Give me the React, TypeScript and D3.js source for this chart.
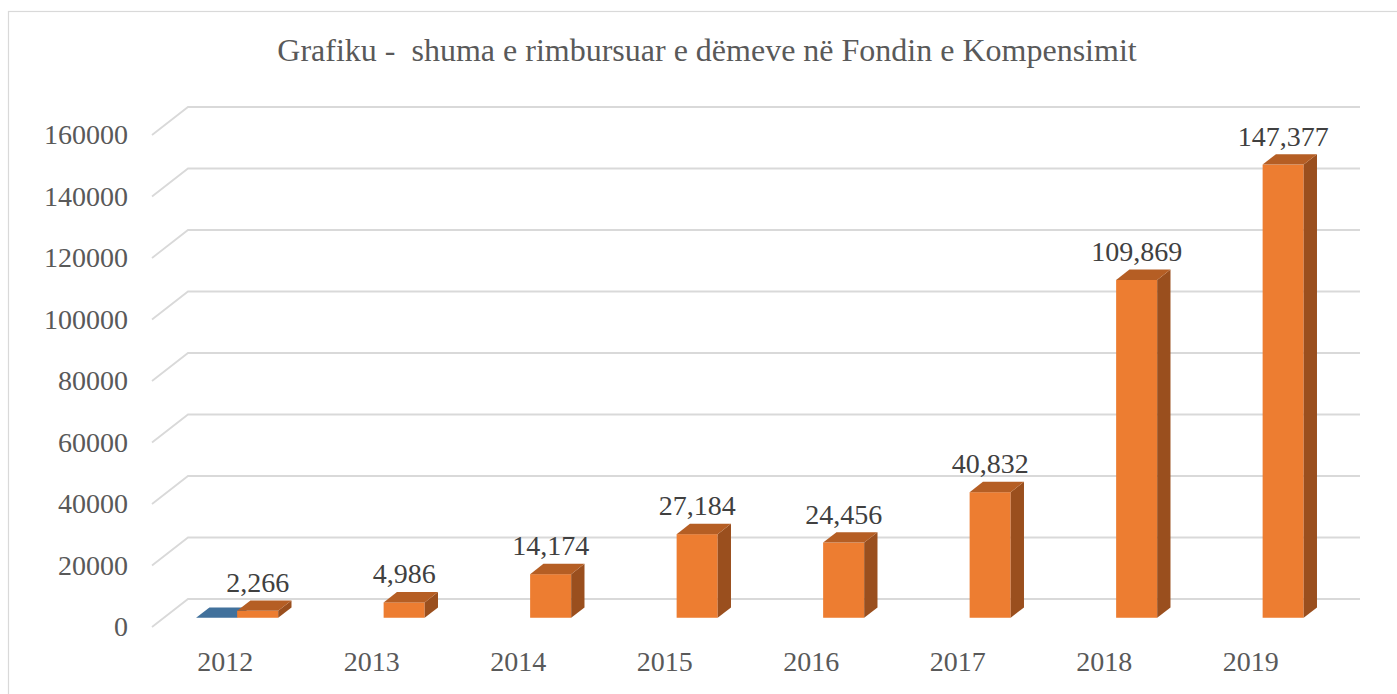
import React from "react";
import * as d3 from "d3";

const years = ["2012", "2013", "2014", "2015", "2016", "2017", "2018", "2019"];
const orangeValues = [2266, 4986, 14174, 27184, 24456, 40832, 109869, 147377];
const blueValues: (number | null)[] = [0, null, null, null, null, null, null, null];
const yTicks = [0, 20000, 40000, 60000, 80000, 100000, 120000, 140000, 160000];
const title = "Grafiku -  shuma e rimbursuar e dëmeve në Fondin e Kompensimit";

const W = 1397;
const H = 694;
const FONT = "'Liberation Serif', 'Times New Roman', serif";

export default function App() {
  // 3D floor geometry
  const frontLeft = 152;
  const frontRight = 1324;
  const depth = { dx: 36, dy: -28 };
  const tFront = 0.33;
  const tBack = 0.7;
  const gapRatio = 1.57;

  const y = d3.scaleLinear().domain([0, 160000]).range([627, 135]);
  const x = d3.scaleBand<string>().domain(years).range([frontLeft, frontRight]).padding(0);
  const band = x.bandwidth();
  const barW = band / (2 + gapRatio);
  const off = (band - 2 * barW) / 2;

  const yAt = (v: number, t: number) => y(v) + depth.dy * t;
  const xAt = (px: number, t: number) => px + depth.dx * t;
  const fmt = d3.format(",");

  const ddx = depth.dx * (tBack - tFront);
  const ddy = depth.dy * (tBack - tFront);

  const bar = (xl: number, v: number, colors: [string, string, string], key: string) => {
    const x0 = xAt(xl, tFront);
    const x1 = x0 + barW;
    const yTop = yAt(v, tFront);
    const yBot = yAt(0, tFront);
    const top = `M${x0},${yTop}L${x1},${yTop}L${x1 + ddx},${yTop + ddy}L${x0 + ddx},${yTop + ddy}Z`;
    const side = `M${x1},${yTop}L${x1 + ddx},${yTop + ddy}L${x1 + ddx},${yBot + ddy}L${x1},${yBot}Z`;
    return (
      <g key={key}>
        {yBot - yTop > 0.5 && <rect x={x0} y={yTop} width={barW} height={yBot - yTop} fill={colors[0]} />}
        <path d={side} fill={colors[2]} />
        <path d={top} fill={colors[1]} />
      </g>
    );
  };

  return (
    <svg width={W} height={H} style={{ position: "absolute", left: 0, top: 0, background: "#fff" }}>
      <rect x={8.5} y={11.5} width={W + 20} height={H + 20} fill="#fff" stroke="#d9d9d9" strokeWidth={1.2} />
      <text x={707} y={61} textAnchor="middle" fontFamily={FONT} fontSize={32} fill="#595959" style={{ whiteSpace: "pre" }}>
        {title}
      </text>
      {yTicks.map((t) => {
        const yf = y(t);
        return (
          <g key={t}>
            <path
              d={`M${frontLeft},${yf}L${frontLeft + depth.dx},${yf + depth.dy}L${frontRight + depth.dx},${yf + depth.dy}`}
              fill="none"
              stroke="#d9d9d9"
              strokeWidth={1.8}
            />
            <text x={128} y={yf + 9} textAnchor="end" fontFamily={FONT} fontSize={28} fill="#595959">
              {t}
            </text>
          </g>
        );
      })}
      {years.map((yr, i) => {
        const bx = x(yr)! + off;
        const parts = [] as React.ReactNode[];
        const bv = blueValues[i];
        if (bv !== null && bv !== undefined) {
          parts.push(bar(bx, bv, ["#4472C4", "#41719C", "#2F5597"], "b" + yr));
        }
        const ov = orangeValues[i];
        parts.push(bar(bx + barW, ov, ["#ED7D31", "#B55E24", "#9A4F1E"], "o" + yr));
        const cx = xAt(bx + barW, tFront) + barW / 2;
        parts.push(
          <text key={"l" + yr} x={cx} y={yAt(ov, tFront) - 19} textAnchor="middle" fontFamily={FONT} fontSize={28} fill="#404040">
            {fmt(ov)}
          </text>
        );
        parts.push(
          <text key={"x" + yr} x={x(yr)! + band / 2} y={671} textAnchor="middle" fontFamily={FONT} fontSize={28} fill="#595959">
            {yr}
          </text>
        );
        return <g key={yr}>{parts}</g>;
      })}
    </svg>
  );
}
